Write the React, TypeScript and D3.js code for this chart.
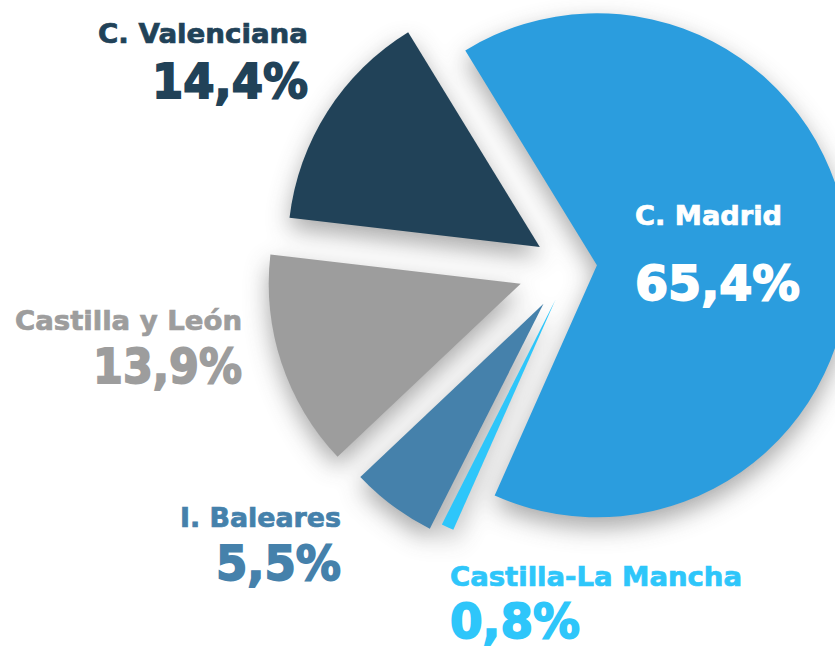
import React from "react";
import * as d3 from "d3";

const regions = ["C. Madrid", "Castilla-La Mancha", "I. Baleares", "Castilla y León", "C. Valenciana"];
const shares = [65.4, 0.8, 5.5, 13.9, 14.4];
const shareLabels = ["65,4%", "0,8%", "5,5%", "13,9%", "14,4%"];

const colors = ["#2B9DDE", "#2EC6FA", "#4581AB", "#9D9D9D", "#214258"];
const explode = [26, 36, 46, 53, 37];

// label layout: x, anchor, label baseline, value baseline, label width, value width, text colour
const labelLayout = [
  { x: 635, anchor: "start", y1: 225, y2: 300, w1: 147, w2: 165, fill: "#FFFFFF" },
  { x: 450, anchor: "start", y1: 586, y2: 638, w1: 292, w2: 130, fill: "#2EC6FA" },
  { x: 341, anchor: "end", y1: 527, y2: 580, w1: 161, w2: 125, fill: "#4581AB" },
  { x: 242, anchor: "end", y1: 330, y2: 383, w1: 227, w2: 149, fill: "#9D9D9D" },
  { x: 308, anchor: "end", y1: 43, y2: 98, w1: 210, w2: 156, fill: "#214258" },
];

const W = 835;
const H = 653;
const cx = 571;
const cy = 267;
const R = 252;
const startDeg = -31.5;

export default function App() {
  const pie = d3
    .pie<number>()
    .sort(null)
    .value((d) => d)
    .startAngle((startDeg * Math.PI) / 180)
    .endAngle((startDeg * Math.PI) / 180 + 2 * Math.PI);
  const arcs = pie(shares);
  const arc = d3.arc<d3.PieArcDatum<number>>().innerRadius(0).outerRadius(R);

  const offsets = arcs.map((a, i) => {
    const mid = (a.startAngle + a.endAngle) / 2;
    return [cx + explode[i] * Math.sin(mid), cy - explode[i] * Math.cos(mid)];
  });

  const font = "'DejaVu Sans', 'Open Sans', sans-serif";

  return (
    <div style={{ position: "absolute", left: 0, top: 0 }}>
      <svg width={W} height={H} style={{ display: "block" }}>
        <defs>
          <filter id="shadow" x="-30%" y="-30%" width="160%" height="160%">
            <feGaussianBlur stdDeviation="12" />
          </filter>
        </defs>
        <rect width={W} height={H} fill="#FFFFFF" />
        <g filter="url(#shadow)" opacity={0.5}>
          {arcs.map((a, i) => (
            <path
              key={"s" + i}
              d={arc(a) || ""}
              transform={`translate(${offsets[i][0]},${offsets[i][1] + 10})`}
              fill="#505050"
            />
          ))}
        </g>
        {arcs.map((a, i) => (
          <path
            key={"p" + i}
            d={arc(a) || ""}
            transform={`translate(${offsets[i][0]},${offsets[i][1]})`}
            fill={colors[i]}
          />
        ))}
        {regions.map((r, i) => {
          const L = labelLayout[i];
          return (
            <g key={"l" + i} fontFamily={font} fontWeight="bold" fill={L.fill} stroke={L.fill}>
              <text
                x={L.x}
                y={L.y1}
                textAnchor={L.anchor as any}
                fontSize={26}
                strokeWidth={0.7}
                textLength={L.w1}
                lengthAdjust="spacingAndGlyphs"
              >
                {r}
              </text>
              <text
                x={L.x}
                y={L.y2}
                textAnchor={L.anchor as any}
                fontSize={48}
                strokeWidth={1.8}
                textLength={L.w2}
                lengthAdjust="spacingAndGlyphs"
              >
                {shareLabels[i]}
              </text>
            </g>
          );
        })}
      </svg>
    </div>
  );
}
